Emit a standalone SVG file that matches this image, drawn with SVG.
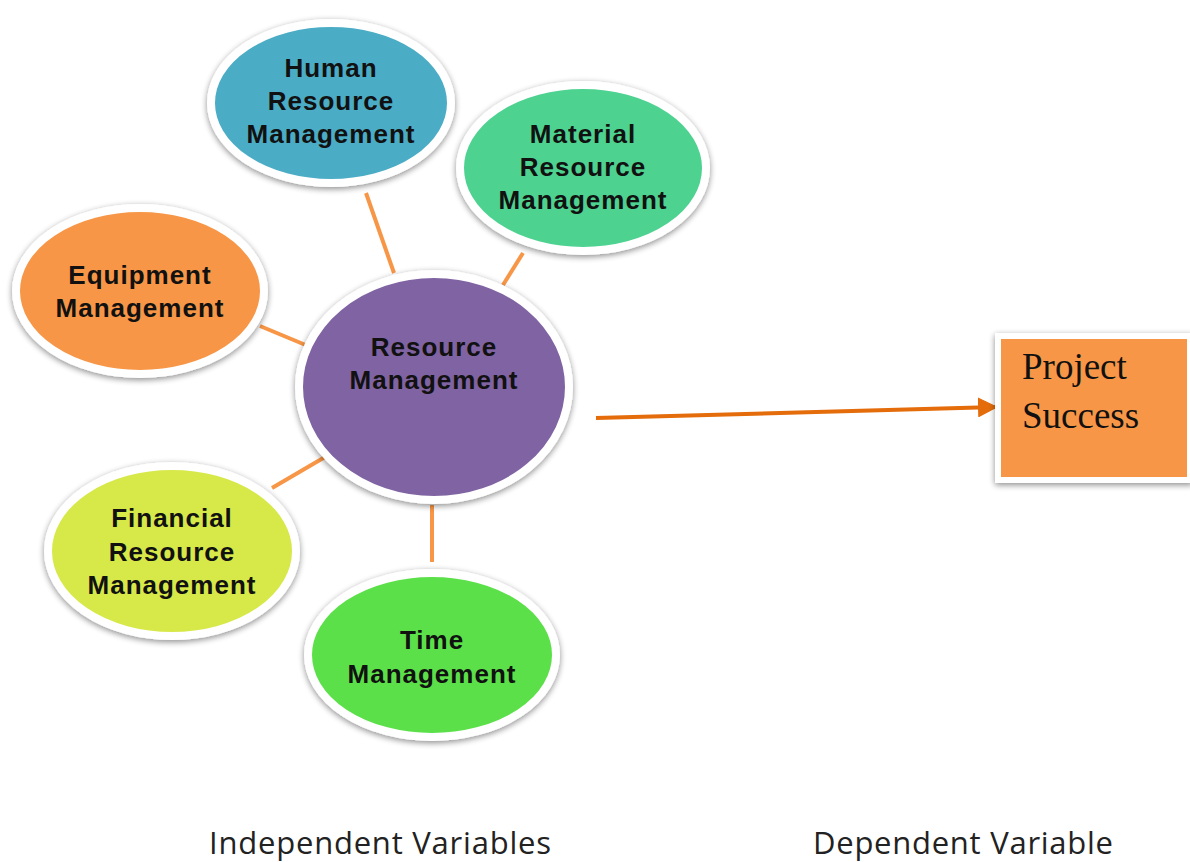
<svg xmlns="http://www.w3.org/2000/svg" width="1190" height="862" viewBox="0 0 1190 862">
<defs>
<filter id="sh" x="-20%" y="-20%" width="140%" height="140%">
<feGaussianBlur in="SourceAlpha" stdDeviation="3"/>
<feOffset dx="0" dy="2" result="b"/>
<feComponentTransfer><feFuncA type="linear" slope="0.45"/></feComponentTransfer>
<feMerge><feMergeNode/><feMergeNode in="SourceGraphic"/></feMerge>
</filter>
<marker id="ah" viewBox="0 0 10 10" refX="9" refY="5" markerWidth="5" markerHeight="5" orient="auto" markerUnits="strokeWidth">
<path d="M0,0 L10,5 L0,10 z" fill="#E46C0A"/>
</marker>
</defs>
<style>
.node{stroke:#fff;stroke-width:8;filter:url(#sh)}
.lbl{font-family:"Liberation Sans",Arial,sans-serif;font-weight:bold;font-size:26px;letter-spacing:1px;fill:#111;text-anchor:middle}
.conn{stroke:#F79646;stroke-width:4;fill:none}
.cap{font-family:"Open Sans","Liberation Sans",sans-serif;font-size:31px;fill:#222;text-anchor:middle}
.ps{font-family:"Liberation Serif","Times New Roman",serif;font-size:37px;fill:#111}
</style>
<rect width="1190" height="862" fill="#fff"/>
<g id="connectors">
<line class="conn" x1="366" y1="193" x2="394" y2="273"/>
<line class="conn" x1="523" y1="253" x2="503" y2="285"/>
<line class="conn" x1="260" y1="326" x2="308" y2="346"/>
<line class="conn" x1="272" y1="488" x2="325" y2="457"/>
<line class="conn" x1="432" y1="505" x2="432" y2="562"/>
<line x1="596" y1="418" x2="996" y2="407" stroke="#E46C0A" stroke-width="4" marker-end="url(#ah)"/>
</g>
<g id="human">
<ellipse class="node" cx="331" cy="103" rx="120" ry="80" fill="#4BACC6"/>
<text class="lbl" x="331" y="77">Human</text>
<text class="lbl" x="331" y="110">Resource</text>
<text class="lbl" x="331" y="143">Management</text>
</g>
<g id="material">
<ellipse class="node" cx="583" cy="168" rx="123" ry="83" fill="#4DD290"/>
<text class="lbl" x="583" y="143">Material</text>
<text class="lbl" x="583" y="176">Resource</text>
<text class="lbl" x="583" y="209">Management</text>
</g>
<g id="equipment">
<ellipse class="node" cx="140" cy="291" rx="124" ry="83" fill="#F79646"/>
<text class="lbl" x="140" y="284">Equipment</text>
<text class="lbl" x="140" y="317">Management</text>
</g>
<g id="resource">
<ellipse class="node" cx="434" cy="387" rx="135" ry="113" fill="#8064A2"/>
<text class="lbl" x="434" y="356">Resource</text>
<text class="lbl" x="434" y="389">Management</text>
</g>
<g id="financial">
<ellipse class="node" cx="172" cy="551" rx="124" ry="85" fill="#D7E84A"/>
<text class="lbl" x="172" y="527">Financial</text>
<text class="lbl" x="172" y="561">Resource</text>
<text class="lbl" x="172" y="594">Management</text>
</g>
<g id="time">
<ellipse class="node" cx="432" cy="655" rx="124" ry="82" fill="#5CE04A"/>
<text class="lbl" x="432" y="649">Time</text>
<text class="lbl" x="432" y="683">Management</text>
</g>
<g id="project-success">
<rect x="998" y="336" width="192" height="144" fill="#F79646" stroke="#fff" stroke-width="6" filter="url(#sh)"/>
<text class="ps" x="1022" y="379">Project</text>
<text class="ps" x="1022" y="428">Success</text>
</g>
<text class="cap" x="380" y="854" textLength="342">Independent Variables</text>
<text class="cap" x="963" y="854" textLength="300">Dependent Variable</text>
</svg>
